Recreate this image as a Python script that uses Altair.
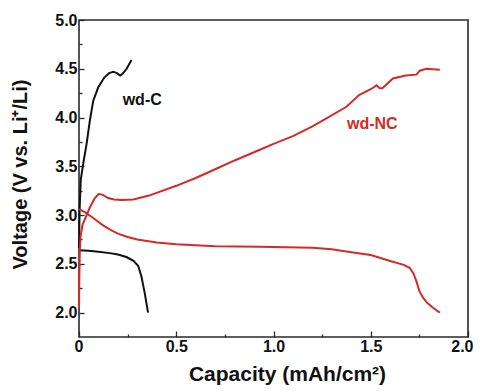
import altair as alt
import pandas as pd

# ---- data ----
c_charge_x = [0.0, 0.003, 0.009, 0.022, 0.039, 0.056, 0.073, 0.099, 0.13, 0.155, 0.176, 0.195, 0.212, 0.225, 0.245, 0.27]
c_charge_y = [2.66, 3.05, 3.36, 3.53, 3.73, 3.97, 4.17, 4.31, 4.41, 4.455, 4.47, 4.455, 4.43, 4.45, 4.5, 4.59]

c_dis_x = [0.0, 0.05, 0.1, 0.159, 0.2, 0.244, 0.28, 0.304, 0.321, 0.338, 0.355]
c_dis_y = [2.64, 2.635, 2.625, 2.61, 2.595, 2.57, 2.53, 2.48, 2.37, 2.2, 2.0]

nc_charge_x = [0.0, 0.002, 0.004, 0.008, 0.018, 0.031, 0.056, 0.08, 0.1, 0.12, 0.15, 0.18, 0.22, 0.28, 0.36,
               0.5, 0.6, 0.7, 0.8, 0.93, 1.0, 1.1, 1.2, 1.27, 1.375, 1.44, 1.5, 1.53, 1.546, 1.56, 1.614, 1.68,
               1.735, 1.752, 1.786, 1.855]
nc_charge_y = [2.05, 2.4, 2.62, 2.78, 2.9, 2.96, 3.08, 3.17, 3.215, 3.21, 3.175, 3.16, 3.155, 3.16, 3.2,
               3.3, 3.38, 3.47, 3.56, 3.67, 3.73, 3.81, 3.91, 3.99, 4.11, 4.23, 4.29, 4.33, 4.30, 4.30, 4.40,
               4.43, 4.44, 4.48, 4.50, 4.49]

nc_dis_x = [0.0, 0.03, 0.073, 0.12, 0.16, 0.2, 0.25, 0.3, 0.4, 0.5, 0.7, 0.93, 1.2, 1.3, 1.4, 1.5, 1.6,
            1.67, 1.7, 1.72, 1.735, 1.75, 1.77, 1.79, 1.82, 1.855]
nc_dis_y = [3.06, 3.03, 2.97, 2.9, 2.85, 2.81, 2.775, 2.75, 2.72, 2.7, 2.68, 2.675, 2.665, 2.65, 2.62, 2.59,
            2.53, 2.49, 2.46, 2.4, 2.32, 2.22, 2.15, 2.1, 2.05, 2.0]

samples = ["wd-C", "wd-NC"]
label_x = [0.325, 1.508]
label_y = [4.18, 3.936]

x_major = [0, 0.5, 1.0, 1.5, 2.0]
x_minor = [0.25, 0.75, 1.25, 1.75]
y_major = [2.0, 2.5, 3.0, 3.5, 4.0, 4.5, 5.0]
y_minor = [2.25, 2.75, 3.25, 3.75, 4.25, 4.75]

BLACK = "#111111"
RED = "#d42a2a"
FONT = "Liberation Sans"

rows = []
for curve, sample, xs, ys in [
    ("c_charge", "wd-C", c_charge_x, c_charge_y),
    ("c_dis", "wd-C", c_dis_x, c_dis_y),
    ("nc_charge", "wd-NC", nc_charge_x, nc_charge_y),
    ("nc_dis", "wd-NC", nc_dis_x, nc_dis_y),
]:
    for i, (x, y) in enumerate(zip(xs, ys)):
        rows.append({"curve": curve, "sample": sample, "x": x, "y": y, "order": i})
df = pd.DataFrame(rows)
labels = pd.DataFrame({"sample": samples, "x": label_x, "y": label_y})

xscale = alt.Scale(domain=[0, 2], nice=False, zero=False)
yscale = alt.Scale(domain=[1.75, 5.0], nice=False, zero=False)
cscale = alt.Scale(domain=samples, range=[BLACK, RED])

x_axis_major = alt.Axis(
    orient="bottom", values=x_major, tickSize={"expr": "-6"}, labelPadding=7,
    labelFlush=True, labelFlushOffset=5,
    labelExpr="datum.value == 0 ? '0' : format(datum.value, '.1f')",
    title="Capacity (mAh/cm²)", titleX=208, titleY=43, titleBaseline="alphabetic",
    titleAnchor="middle", titleAlign="center", titleFontSize=21,
)
y_axis_major = alt.Axis(
    orient="left", values=y_major, tickSize={"expr": "-5"}, labelPadding=7, labelFlush=False, format=".1f",
    title="Voltage (V vs. Li⁺/Li)", titleX=-53, titleY=154, titleBaseline="alphabetic",
    titleAlign="center", titleAngle=270,
)
x_axis_minor = alt.Axis(orient="bottom", values=x_minor, tickSize={"expr": "-3"}, labels=False, title=None)
y_axis_minor = alt.Axis(orient="left", values=y_minor, tickSize={"expr": "-3"}, labels=False, title=None)

lines = alt.Chart(df).mark_line(strokeWidth=2).encode(
    x=alt.X("x:Q", scale=xscale, axis=x_axis_major),
    y=alt.Y("y:Q", scale=yscale, axis=y_axis_major),
    color=alt.Color("sample:N", scale=cscale, legend=None),
    detail="curve:N",
    order="order:Q",
)

texts = alt.Chart(labels).mark_text(font=FONT, fontSize=16, fontWeight="bold", align="center", baseline="middle").encode(
    x=alt.X("x:Q", scale=xscale, axis=x_axis_minor),
    y=alt.Y("y:Q", scale=yscale, axis=y_axis_minor),
    text="sample:N",
    color=alt.Color("sample:N", scale=cscale, legend=None),
)

chart = alt.layer(lines, texts).resolve_axis(x="independent", y="independent").properties(
    width=389, height=317,
    autosize=alt.AutoSizeParams(type="none"),
    padding={"left": 71, "top": 12, "right": 6, "bottom": 48},
).configure_view(
    stroke="#2a2a2a", strokeWidth=1.6,
).configure_axis(
    domain=False, grid=False, tickColor="#2a2a2a", tickWidth=1.3,
    labelFont=FONT, labelFontSize=16, labelFontWeight="bold", labelColor="#111111",
    titleFont=FONT, titleFontSize=20, titleFontWeight="bold", titleColor="#111111",
)

chart.save("out.html", embed_options={"renderer": "svg", "actions": False})
